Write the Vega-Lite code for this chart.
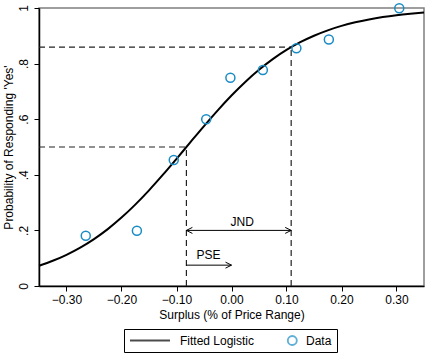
{
  "$schema": "https://vega.github.io/schema/vega-lite/v6.json",
  "width": 385,
  "height": 278,
  "autosize": {"type": "none"},
  "padding": {"left": 39, "top": 8, "right": 4, "bottom": 70},
  "config": {
    "font": "Liberation Sans",
    "view": {"stroke": "#7f7f7f", "strokeWidth": 1.5},
    "axis": {
      "domainColor": "black", "domainWidth": 1.5, "tickColor": "black", "tickSize": 5,
      "labelColor": "black", "titleColor": "black", "labelFontSize": 12, "titleFontSize": 12,
      "titleFontWeight": "normal", "grid": false, "labelFont": "Liberation Sans", "titleFont": "Liberation Sans"
    }
  },
  "datasets": {
    "curve": [
      {"x": -0.35, "p": 0.0729}, {"x": -0.325, "p": 0.0907}, {"x": -0.3, "p": 0.1123},
      {"x": -0.275, "p": 0.1381}, {"x": -0.25, "p": 0.1688}, {"x": -0.225, "p": 0.2047},
      {"x": -0.2, "p": 0.246}, {"x": -0.175, "p": 0.2927}, {"x": -0.15, "p": 0.3441},
      {"x": -0.125, "p": 0.3994}, {"x": -0.1, "p": 0.4574}, {"x": -0.075, "p": 0.5166},
      {"x": -0.05, "p": 0.5753}, {"x": -0.025, "p": 0.632}, {"x": 0.0, "p": 0.6852},
      {"x": 0.025, "p": 0.734}, {"x": 0.05, "p": 0.7777}, {"x": 0.075, "p": 0.8161},
      {"x": 0.1, "p": 0.8491}, {"x": 0.125, "p": 0.877}, {"x": 0.15, "p": 0.9003},
      {"x": 0.175, "p": 0.9197}, {"x": 0.2, "p": 0.9356}, {"x": 0.225, "p": 0.9485},
      {"x": 0.25, "p": 0.9589}, {"x": 0.275, "p": 0.9673}, {"x": 0.3, "p": 0.974},
      {"x": 0.325, "p": 0.9793}, {"x": 0.35, "p": 0.9837}
    ],
    "obs": [
      {"x": -0.265, "p": 0.181, "series": "Data"},
      {"x": -0.172, "p": 0.199, "series": "Data"},
      {"x": -0.105, "p": 0.453, "series": "Data"},
      {"x": -0.046, "p": 0.6, "series": "Data"},
      {"x": -0.002, "p": 0.749, "series": "Data"},
      {"x": 0.057, "p": 0.777, "series": "Data"},
      {"x": 0.118, "p": 0.855, "series": "Data"},
      {"x": 0.177, "p": 0.887, "series": "Data"},
      {"x": 0.305, "p": 0.999, "series": "Data"}
    ],
    "dashes": [
      {"x1": -0.35, "x2": -0.082, "y1": 0.5, "y2": 0.5},
      {"x1": -0.35, "x2": 0.1085, "y1": 0.859, "y2": 0.859},
      {"x1": -0.082, "x2": -0.082, "y1": 0.0, "y2": 0.5},
      {"x1": 0.1085, "x2": 0.1085, "y1": 0.0, "y2": 0.859}
    ],
    "arrows": [
      {"x1": -0.082, "x2": 0.1085, "y1": 0.2, "y2": 0.2},
      {"x1": -0.082, "x2": 0.0, "y1": 0.075, "y2": 0.075}
    ],
    "lheads": [
      {"x": -0.082, "y": 0.2}
    ],
    "rheads": [
      {"x": 0.1085, "y": 0.2},
      {"x": 0.0, "y": 0.075}
    ],
    "notes": [
      {"x": 0.0195, "y": 0.232, "t": "JND"},
      {"x": -0.042, "y": 0.111, "t": "PSE"}
    ]
  },
  "layer": [
    {
      "data": {"name": "dashes"},
      "mark": {"type": "rule", "strokeDash": [6, 4], "strokeWidth": 1.2, "color": "#222"},
      "encoding": {
        "x": {"field": "x1", "type": "quantitative", "scale": {"domain": [-0.35, 0.35], "nice": false, "zero": false},
          "axis": {"values": [-0.3, -0.2, -0.1, 0, 0.1, 0.2, 0.3],
            "labelExpr": "datum.value < 0 ? '\u2212' + format(-datum.value, '.2f') : format(datum.value, '.2f')",
            "title": "Surplus (% of Price Range)", "labelPadding": 3, "titlePadding": 4}},
        "x2": {"field": "x2"},
        "y": {"field": "y1", "type": "quantitative", "scale": {"domain": [0, 1], "nice": false},
          "axis": {"values": [0, 0.2, 0.4, 0.6, 0.8, 1],
            "labelExpr": "datum.value == 0 ? '0' : datum.value == 1 ? '1' : replace(format(datum.value, '.1f'), '0.', '.')",
            "labelAngle": -90, "labelAlign": "center", "labelBaseline": "bottom", "labelPadding": 4,
            "title": "Probability of Responding 'Yes'", "titlePadding": 2}},
        "y2": {"field": "y2"}
      }
    },
    {
      "data": {"name": "arrows"},
      "mark": {"type": "rule", "strokeWidth": 1, "color": "black"},
      "encoding": {
        "x": {"field": "x1", "type": "quantitative"},
        "x2": {"field": "x2"},
        "y": {"field": "y1", "type": "quantitative"},
        "y2": {"field": "y2"}
      }
    },
    {
      "data": {"name": "lheads"},
      "mark": {"type": "point", "filled": false, "color": "black", "strokeWidth": 1, "size": 36, "opacity": 1, "shape": "M2,-1L0,0L2,1"},
      "encoding": {
        "x": {"field": "x", "type": "quantitative"},
        "y": {"field": "y", "type": "quantitative"}
      }
    },
    {
      "data": {"name": "rheads"},
      "mark": {"type": "point", "filled": false, "color": "black", "strokeWidth": 1, "size": 36, "opacity": 1, "shape": "M-2,-1L0,0L-2,1"},
      "encoding": {
        "x": {"field": "x", "type": "quantitative"},
        "y": {"field": "y", "type": "quantitative"}
      }
    },
    {
      "data": {"name": "notes"},
      "mark": {"type": "text", "fontSize": 12, "color": "black", "baseline": "middle", "align": "center"},
      "encoding": {
        "x": {"field": "x", "type": "quantitative"},
        "y": {"field": "y", "type": "quantitative"},
        "text": {"field": "t"}
      }
    },
    {
      "data": {"name": "curve"},
      "mark": {"type": "line", "color": "black", "strokeWidth": 2, "interpolate": "monotone"},
      "encoding": {
        "x": {"field": "x", "type": "quantitative"},
        "y": {"field": "p", "type": "quantitative"}
      }
    },
    {
      "data": {"name": "obs"},
      "mark": {"type": "point", "filled": false, "strokeWidth": 1.5, "size": 81, "opacity": 1, "color": "#1a8cc4", "shape": "circle"},
      "encoding": {
        "x": {"field": "x", "type": "quantitative"},
        "y": {"field": "p", "type": "quantitative"}
      }
    },
    {
      "data": {"name": "obs"},
      "mark": {"type": "point", "filled": false, "strokeWidth": 1.5, "size": 0},
      "encoding": {
        "x": {"field": "x", "type": "quantitative"},
        "y": {"field": "p", "type": "quantitative"},
        "color": {"field": "series", "type": "nominal",
          "scale": {"domain": ["Fitted Logistic", "Data"], "range": ["black", "#1a8cc4"]},
          "legend": {
            "orient": "none", "legendX": 85, "legendY": 321, "direction": "horizontal", "title": null,
            "strokeColor": "black", "fillColor": "white", "padding": 5, "clipHeight": 13,
            "symbolSize": 1600, "symbolStrokeWidth": 1.8, "labelOffset": 9, "labelFontSize": 12,
            "columnPadding": 0, "labelFont": "Liberation Sans", "labelColor": "black"
          }},
        "shape": {"field": "series", "type": "nominal",
          "scale": {"domain": ["Fitted Logistic", "Data"], "range": ["stroke", "M0.59,0A0.225,0.225,0,1,1,1.04,0A0.225,0.225,0,1,1,0.59,0Z"]},
          "legend": {
            "orient": "none", "legendX": 85, "legendY": 321, "direction": "horizontal", "title": null,
            "strokeColor": "black", "fillColor": "white", "padding": 5, "clipHeight": 13,
            "symbolSize": 1600, "symbolStrokeWidth": 1.8, "labelOffset": 9, "labelFontSize": 12,
            "columnPadding": 0, "labelFont": "Liberation Sans", "labelColor": "black"
          }}
      }
    }
  ]
}
